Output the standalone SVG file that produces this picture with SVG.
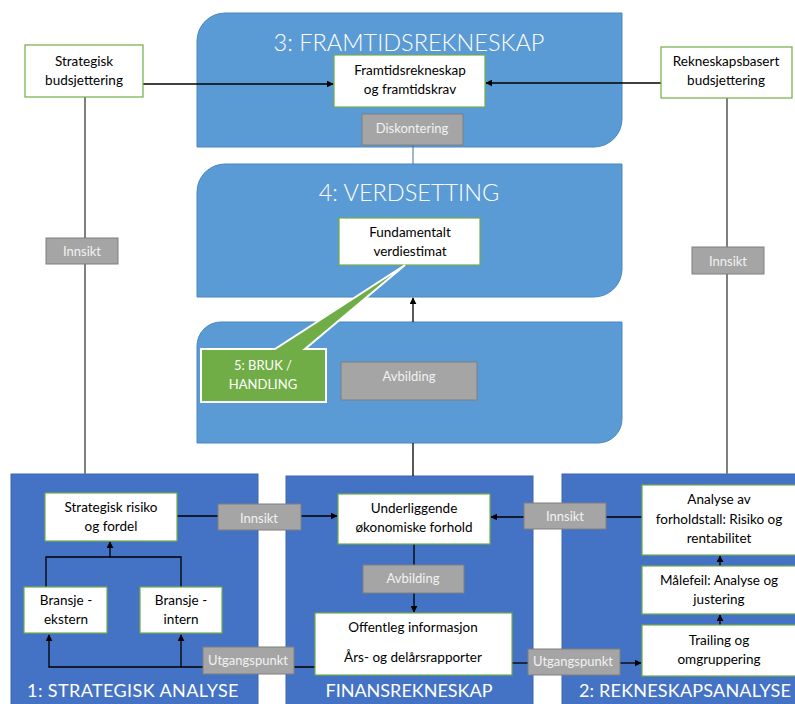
<svg xmlns="http://www.w3.org/2000/svg" width="795" height="704" viewBox="0 0 795 704">
  <defs>
    <marker id="arrow" viewBox="0 0 10 10" refX="9" refY="5" markerWidth="7" markerHeight="7" markerUnits="userSpaceOnUse" orient="auto">
      <path d="M0,0 L10,5 L0,10 Z" fill="#000"/>
    </marker>
    <style>
      .panelTop { fill: #5b9bd5; stroke: #4a86c1; stroke-width: 1; }
      .panelBot { fill: #4472c4; stroke: #3d67b1; stroke-width: 1; }
      .box { fill: #ffffff; stroke: #70ad47; stroke-width: 1.2; }
      .tag { fill: #a5a5a5; stroke: #7f7f7f; stroke-width: 1; }
      .title { font-family: Lato, "Liberation Sans", sans-serif; fill: #ffffff; text-anchor: middle; }
      .light { font-weight: 300; }
      .txt { font-family: Lato, "Liberation Sans", sans-serif; font-size: 13.5px; fill: #000; text-anchor: middle; }
      .tagtxt { font-family: Lato, "Liberation Sans", sans-serif; font-size: 13px; fill: #f2f2f2; text-anchor: middle; }
      .link { fill: none; stroke: #000; stroke-width: 1.3; }
      .grey { fill: none; stroke: #7f7f7f; stroke-width: 2; }
    </style>
  </defs>
  <rect width="795" height="704" fill="#ffffff"/>

  <!-- stage panels -->
  <g id="panel-3">
    <path class="panelTop" d="M197,147 L197,41 A28,28 0 0 1 225,13 L622,13 L622,119 A28,28 0 0 1 594,147 Z"/>
    <text class="title light" x="409" y="51" font-size="23.5">3: FRAMTIDSREKNESKAP</text>
  </g>
  <g id="panel-4">
    <path class="panelTop" d="M197,297 L197,192 A28,28 0 0 1 225,164 L622,164 L622,269 A28,28 0 0 1 594,297 Z"/>
    <text class="title light" x="409" y="201" font-size="23.5">4: VERDSETTING</text>
  </g>
  <g id="panel-5">
    <path class="panelTop" d="M197,443 L197,346 A24,24 0 0 1 221,322 L622,322 L622,419 A24,24 0 0 1 598,443 Z"/>
  </g>
  <g id="panel-1">
    <rect class="panelBot" x="11" y="474" width="247" height="240"/>
    <text class="title" x="133" y="697" font-size="18" letter-spacing="0.4">1: STRATEGISK  ANALYSE</text>
  </g>
  <g id="panel-finans">
    <rect class="panelBot" x="286" y="476" width="247" height="240"/>
    <text class="title" x="409" y="697" font-size="18">FINANSREKNESKAP</text>
  </g>
  <g id="panel-2">
    <rect class="panelBot" x="562" y="474" width="240" height="240"/>
    <text class="title" x="685" y="697" font-size="18" letter-spacing="0.2">2: REKNESKAPSANALYSE</text>
  </g>

  <!-- connectors -->
  <g id="connectors">
    <line class="link" x1="143" y1="84" x2="333" y2="84" marker-end="url(#arrow)"/>
    <line class="link" x1="661" y1="83" x2="486" y2="83" marker-end="url(#arrow)"/>
    <line x1="413" y1="145" x2="413" y2="164" stroke="#41719c" stroke-width="1"/>
    <line class="link" x1="413" y1="322" x2="413" y2="298" marker-end="url(#arrow)"/>
    <line class="link" x1="413" y1="443" x2="413" y2="476"/>
    <line class="grey" x1="85" y1="97" x2="85" y2="474"/>
    <line class="grey" x1="727" y1="98" x2="727" y2="474"/>
    <line class="link" x1="177" y1="516" x2="218" y2="516"/>
    <line class="link" x1="301" y1="516" x2="337" y2="516" marker-end="url(#arrow)"/>
    <polyline class="link" points="46,587 46,557 181,557 181,587"/>
    <line class="link" x1="110" y1="557" x2="110" y2="542" marker-end="url(#arrow)"/>
    <polyline class="link" points="315,667 203,667"/>
    <polyline class="link" points="203,667 49,667 49,635" marker-end="url(#arrow)"/>
    <line class="link" x1="181" y1="667" x2="181" y2="635" marker-end="url(#arrow)"/>
    <line class="link" x1="414" y1="544" x2="414" y2="565"/>
    <line class="link" x1="414" y1="593" x2="414" y2="612" marker-end="url(#arrow)"/>
    <line class="link" x1="642" y1="517" x2="606" y2="517"/>
    <line class="link" x1="524" y1="517" x2="491" y2="517" marker-end="url(#arrow)"/>
    <line class="link" x1="512" y1="663" x2="528" y2="663"/>
    <line class="link" x1="620" y1="663" x2="641" y2="663" marker-end="url(#arrow)"/>
    <line class="link" x1="720" y1="566" x2="720" y2="556" marker-end="url(#arrow)"/>
    <line class="link" x1="720" y1="625" x2="720" y2="615" marker-end="url(#arrow)"/>
  </g>

  <!-- nodes -->
  <g id="strategisk-budsjettering">
    <rect class="box" x="25" y="45" width="118" height="52"/>
    <text class="txt" x="84" y="66">Strategisk</text>
    <text class="txt" x="84" y="85">budsjettering</text>
  </g>
  <g id="rekneskapsbasert-budsjettering">
    <rect class="box" x="661" y="47" width="131" height="51"/>
    <text class="txt" x="726" y="66">Rekneskapsbasert</text>
    <text class="txt" x="726" y="85">budsjettering</text>
  </g>
  <g id="framtidsrekneskap">
    <rect class="box" x="334" y="55" width="151" height="52"/>
    <text class="txt" x="410" y="75">Framtidsrekneskap</text>
    <text class="txt" x="410" y="94">og framtidskrav</text>
  </g>
  <g id="diskontering">
    <rect class="tag" x="362" y="114" width="101" height="31"/>
    <text class="tagtxt" x="412" y="133">Diskontering</text>
  </g>
  <g id="innsikt-venstre">
    <rect class="tag" x="46" y="238" width="72" height="26"/>
    <text class="tagtxt" x="82" y="256">Innsikt</text>
  </g>
  <g id="innsikt-hogre">
    <rect class="tag" x="692" y="247" width="72" height="27"/>
    <text class="tagtxt" x="728" y="266">Innsikt</text>
  </g>
  <g id="fundamentalt-verdiestimat">
    <rect class="box" x="339" y="218" width="141" height="47"/>
    <text class="txt" x="410" y="237">Fundamentalt</text>
    <text class="txt" x="410" y="256">verdiestimat</text>
  </g>
  <g id="bruk-handling">
    <path d="M201,349 L275,349 L405,265 L305,349 L326,349 L326,402 L201,402 Z" fill="#70ad47" stroke="#ffffff" stroke-width="2" stroke-linejoin="miter"/>
    <text class="title" x="263" y="370" font-size="13">5: BRUK /</text>
    <text class="title" x="263" y="389" font-size="13">HANDLING</text>
  </g>
  <g id="avbilding-5">
    <rect class="tag" x="341" y="362" width="136" height="38"/>
    <text class="tagtxt" x="409" y="381">Avbilding</text>
  </g>
  <g id="strategisk-risiko">
    <rect class="box" x="45" y="493" width="132" height="48"/>
    <text class="txt" x="111" y="512">Strategisk risiko</text>
    <text class="txt" x="111" y="531">og fordel</text>
  </g>
  <g id="bransje-ekstern">
    <rect class="box" x="24" y="587" width="83" height="46"/>
    <text class="txt" x="66" y="605">Bransje -</text>
    <text class="txt" x="66" y="624">ekstern</text>
  </g>
  <g id="bransje-intern">
    <rect class="box" x="140" y="587" width="82" height="46"/>
    <text class="txt" x="181" y="605">Bransje -</text>
    <text class="txt" x="181" y="624">intern</text>
  </g>
  <g id="innsikt-1">
    <rect class="tag" x="218" y="504" width="83" height="26"/>
    <text class="tagtxt" x="259" y="523">Innsikt</text>
  </g>
  <g id="utgangspunkt-1">
    <rect class="tag" x="203" y="647" width="91" height="27"/>
    <text class="tagtxt" x="248" y="665" font-size="11">Utgangspunkt</text>
  </g>
  <g id="underliggende">
    <rect class="box" x="338" y="494" width="152" height="50"/>
    <text class="txt" x="414" y="513">Underliggende</text>
    <text class="txt" x="414" y="532">økonomiske forhold</text>
  </g>
  <g id="avbilding-finans">
    <rect class="tag" x="363" y="565" width="101" height="28"/>
    <text class="tagtxt" x="413" y="583">Avbilding</text>
  </g>
  <g id="offentleg-informasjon">
    <rect class="box" x="315" y="613" width="197" height="62"/>
    <text class="txt" x="413" y="632">Offentleg informasjon</text>
    <text class="txt" x="413" y="662">Års- og delårsrapporter</text>
  </g>
  <g id="innsikt-2">
    <rect class="tag" x="524" y="503" width="82" height="26"/>
    <text class="tagtxt" x="565" y="521">Innsikt</text>
  </g>
  <g id="utgangspunkt-2">
    <rect class="tag" x="528" y="649" width="92" height="26"/>
    <text class="tagtxt" x="573" y="666" font-size="11">Utgangspunkt</text>
  </g>
  <g id="analyse-forholdstall">
    <rect class="box" x="642" y="485" width="155" height="70"/>
    <text class="txt" x="719" y="504">Analyse av</text>
    <text class="txt" x="719" y="524">forholdstall: Risiko og</text>
    <text class="txt" x="719" y="543">rentabilitet</text>
  </g>
  <g id="malefeil">
    <rect class="box" x="642" y="566" width="155" height="48"/>
    <text class="txt" x="719" y="585">Målefeil: Analyse og</text>
    <text class="txt" x="719" y="604">justering</text>
  </g>
  <g id="trailing">
    <rect class="box" x="642" y="625" width="155" height="51"/>
    <text class="txt" x="719" y="645">Trailing og</text>
    <text class="txt" x="719" y="664">omgruppering</text>
  </g>
</svg>
